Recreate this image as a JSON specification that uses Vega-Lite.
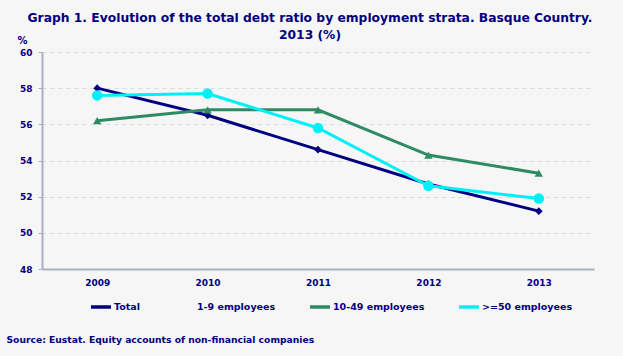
{
  "$schema": "https://vega.github.io/schema/vega-lite/v6.json",
  "width": 552,
  "height": 217,
  "autosize": {"type": "none"},
  "padding": {"left": 42, "top": 52, "right": 29, "bottom": 87},
  "background": "#f6f6f6",
  "title": {
    "text": ["Graph 1. Evolution of the total debt ratio by employment strata. Basque Country.", "2013 (%)"],
    "anchor": "middle",
    "dx": -8,
    "offset": -6,
    "font": "DejaVu Sans",
    "fontSize": 12.3,
    "fontWeight": "bold",
    "color": "#000080",
    "lineHeight": 17
  },
  "config": {
    "view": {"stroke": null},
    "font": "DejaVu Sans"
  },
  "data": {
    "values": [
      {"year": "2009", "series": "Total", "value": 58.0},
      {"year": "2010", "series": "Total", "value": 56.5},
      {"year": "2011", "series": "Total", "value": 54.6},
      {"year": "2012", "series": "Total", "value": 52.7},
      {"year": "2013", "series": "Total", "value": 51.2},
      {"year": "2009", "series": "1-9 employees", "value": 60.1},
      {"year": "2010", "series": "1-9 employees", "value": 56.1},
      {"year": "2011", "series": "1-9 employees", "value": 53.2},
      {"year": "2012", "series": "1-9 employees", "value": 52.1},
      {"year": "2013", "series": "1-9 employees", "value": 50.0},
      {"year": "2009", "series": "10-49 employees", "value": 56.2},
      {"year": "2010", "series": "10-49 employees", "value": 56.8},
      {"year": "2011", "series": "10-49 employees", "value": 56.8},
      {"year": "2012", "series": "10-49 employees", "value": 54.3},
      {"year": "2013", "series": "10-49 employees", "value": 53.3},
      {"year": "2009", "series": ">=50 employees", "value": 57.6},
      {"year": "2010", "series": ">=50 employees", "value": 57.7},
      {"year": "2011", "series": ">=50 employees", "value": 55.8},
      {"year": "2012", "series": ">=50 employees", "value": 52.6},
      {"year": "2013", "series": ">=50 employees", "value": 51.9}
    ]
  },
  "encoding": {
    "x": {
      "field": "year",
      "type": "ordinal",
      "scale": {"type": "point", "padding": 0.5},
      "axis": {
        "title": "Source: Eustat. Equity accounts of non-financial companies",
        "titleAnchor": "start",
        "titleAlign": "left",
        "titleBaseline": "middle",
        "titleX": -36,
        "titleY": 70,
        "titleFont": "DejaVu Sans",
        "titleFontSize": 9.2,
        "titleFontWeight": "bold",
        "titleColor": "#000080",
        "labelAngle": 0,
        "labelFont": "DejaVu Sans",
        "labelFontSize": 9,
        "labelFontWeight": "bold",
        "labelColor": "#000080",
        "labelPadding": 9,
        "ticks": false,
        "domainColor": "#a9b2ba",
        "domainWidth": 2,
        "grid": false
      }
    },
    "y": {
      "field": "value",
      "type": "quantitative",
      "scale": {"domain": [48, 60], "nice": false, "zero": false},
      "axis": {
        "values": [48, 50, 52, 54, 56, 58, 60],
        "title": "%",
        "titleAngle": 0,
        "titleAlign": "left",
        "titleBaseline": "bottom",
        "titleX": -25,
        "titleY": -7,
        "titleFont": "DejaVu Sans",
        "titleFontSize": 10,
        "titleFontWeight": "bold",
        "titleColor": "#000080",
        "labelFont": "DejaVu Sans",
        "labelFontSize": 9,
        "labelFontWeight": "bold",
        "labelColor": "#000080",
        "labelPadding": 6,
        "tickSize": 4,
        "tickColor": "#a9b2ba",
        "domainColor": "#a9aec6",
        "domainWidth": 2,
        "grid": true,
        "gridColor": "#d3dfdf",
        "gridDash": [4, 4],
        "gridWidth": 1
      }
    },
    "color": {
      "field": "series",
      "type": "nominal",
      "scale": {
        "domain": ["Total", "1-9 employees", "10-49 employees", ">=50 employees"],
        "range": ["#000080", "#f6f6f6", "#2e8b63", "#00f0f8"]
      },
      "legend": {
        "title": null,
        "orient": "none",
        "direction": "horizontal",
        "legendX": 47,
        "legendY": 243,
        "symbolType": "stroke",
        "symbolStrokeWidth": 3.5,
        "symbolSize": 400,
        "symbolOffset": 0,
        "labelOffset": 1,
        "columnPadding": 27,
        "labelFont": "DejaVu Sans",
        "labelFontSize": 9.5,
        "labelFontWeight": "bold",
        "labelColor": "#000080"
      }
    }
  },
  "layer": [
    {
      "mark": {"type": "line", "strokeWidth": 3, "interpolate": "linear"},
      "encoding": {
        "strokeOpacity": {
          "condition": {"test": "datum.series === '1-9 employees'", "value": 0},
          "value": 1
        }
      }
    },
    {
      "mark": {"type": "point", "filled": true, "opacity": 1},
      "encoding": {
        "shape": {
          "condition": [
            {"test": "datum.series === '>=50 employees'", "value": "circle"},
            {"test": "datum.series === '10-49 employees'", "value": "triangle-up"}
          ],
          "value": "diamond"
        },
        "size": {
          "condition": [
            {"test": "datum.series === '>=50 employees'", "value": 110},
            {"test": "datum.series === '10-49 employees'", "value": 70},
            {"test": "datum.series === '1-9 employees'", "value": 0}
          ],
          "value": 60
        }
      }
    }
  ]
}
